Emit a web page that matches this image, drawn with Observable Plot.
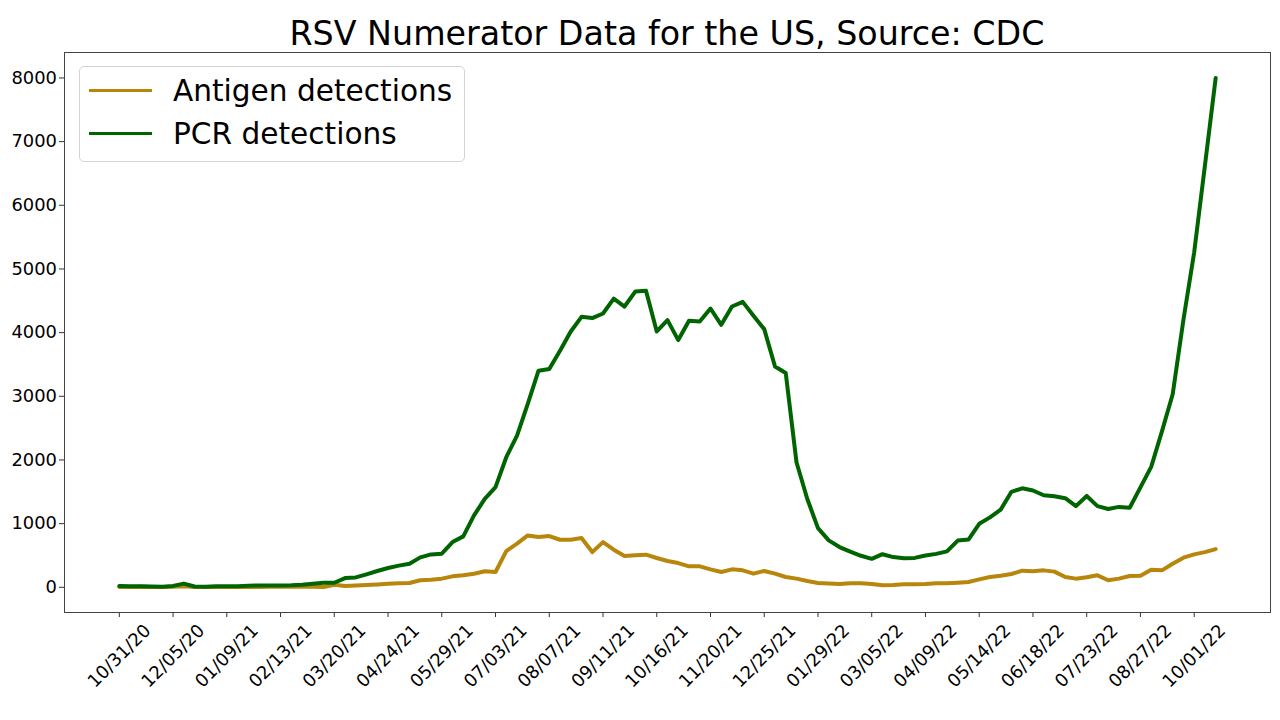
<!DOCTYPE html>
<html>
<head>
<meta charset="utf-8">
<script src="https://cdn.jsdelivr.net/npm/d3@7"></script>
<script src="https://cdn.jsdelivr.net/npm/@observablehq/plot@0.6"></script>
<style>
  body { margin: 0; background: #fff; font-family: "DejaVu Sans", sans-serif; }
  #fig { position: relative; width: 1280px; height: 720px; overflow: hidden; background: #fff; }
  #title { position: absolute; left: 64px; width: 1206px; top: 17px; text-align: center;
           font-size: 33.3px; line-height: 33.3px; color: #000; white-space: nowrap; }
  #chart { position: absolute; left: 0; top: 50px; }
  #legend { position: absolute; left: 79px; top: 66px; width: 386px; height: 96px;
            border: 1px solid #d4d4d4; border-radius: 5px; background: rgba(255,255,255,0.8);
            box-sizing: border-box; }
  .sw { position: absolute; left: 9px; width: 63px; height: 0; border-top: 3.8px solid; }
  .lt { position: absolute; left: 93px; font-size: 29.6px; line-height: 29.6px; color: #000; white-space: nowrap; }
</style>
</head>
<body>
<div id="fig">
  <div id="title">RSV Numerator Data for the US, Source: CDC</div>
  <div id="chart"></div>
  <div id="legend">
    <div class="sw" style="top:21.5px;border-color:#B8860B"></div>
    <div class="lt" style="top:9.5px">Antigen detections</div>
    <div class="sw" style="top:64.5px;border-color:#006400"></div>
    <div class="lt" style="top:52.5px">PCR detections</div>
  </div>
</div>
<script>
// Weekly series starting 10/31/20
const startDate = "10/31/20";
const antigen = [
  5, 5, 8, 6, 5, 8, 18, 5, 4, 5,
  6, 6, 5, 6, 8, 8, 10, 12, 10, 5,
  40, 20, 28, 35, 45, 55, 62, 68, 110, 120,
  136, 172, 188, 214, 251, 240, 569, 685, 815, 789,
  804, 747, 747, 773, 553, 710, 591, 491, 502, 512,
  460, 413, 381, 329, 329, 282, 240, 282, 266, 214,
  256, 214, 162, 136, 99, 68, 60, 52, 63, 63,
  52, 31, 37, 47, 47, 52, 63, 63, 73, 84,
  125, 162, 183, 209, 261, 251, 266, 246, 162, 136,
  157, 188, 110, 136, 177, 183, 277, 266, 371, 465,
  517, 553, 600
];
const pcr = [
  22, 15, 15, 12, 8, 22, 58, 12, 10, 15,
  18, 15, 25, 28, 28, 30, 32, 40, 55, 70,
  72, 145, 155, 204, 256, 303, 340, 371, 470, 517,
  528, 710, 800, 1129, 1390, 1573, 2043, 2383, 2880, 3402,
  3428, 3715, 4018, 4248, 4228, 4300, 4535, 4410, 4645, 4656,
  4018, 4196, 3883, 4186, 4175, 4379, 4123, 4410, 4483, 4264,
  4055, 3469, 3365, 1964, 1390, 930, 737, 632, 560, 495,
  447, 520, 475, 455, 462, 500, 525, 564, 734, 750,
  998, 1098, 1220, 1500, 1555, 1521, 1445, 1430, 1400, 1275,
  1435, 1275, 1230, 1263, 1250, 1569, 1892, 2450, 3033, 4203,
  5261, 6625, 8000
];
const xTickLabels = [
  "10/31/20", "12/05/20", "01/09/21", "02/13/21", "03/20/21", "04/24/21", "05/29/21",
  "07/03/21", "08/07/21", "09/11/21", "10/16/21", "11/20/21", "12/25/21", "01/29/22",
  "03/05/22", "04/09/22", "05/14/22", "06/18/22", "07/23/22", "08/27/22", "10/01/22"
];
const yTicks = [0, 1000, 2000, 3000, 4000, 5000, 6000, 7000, 8000];
const seriesNames = ["Antigen detections", "PCR detections"];
const seriesColors = ["#B8860B", "#006400"];

const parse = d3.utcParse("%m/%d/%y");
const t0 = parse(startDate);
const weekDate = i => d3.utcDay.offset(t0, 7 * i);
const antigenRows = antigen.map((v, i) => ({date: weekDate(i), value: v}));
const pcrRows = pcr.map((v, i) => ({date: weekDate(i), value: v}));
const tickDates = xTickLabels.map(parse);

// matplotlib-like 5% margins
const n = pcr.length - 1;
const weekMs = 7 * 864e5;
const xDomain = [new Date(t0.getTime() - 0.05 * n * weekMs), new Date(t0.getTime() + 1.05 * n * weekMs)];
const allVals = antigen.concat(pcr);
const ymin = d3.min(allVals), ymax = d3.max(allVals), yr = ymax - ymin;
const yDomain = [ymin - 0.05 * yr, ymax + 0.05 * yr];

const fs = 17.9;
const chart = Plot.plot({
  width: 1280,
  height: 670,
  marginLeft: 64,
  marginRight: 10,
  marginTop: 2,
  marginBottom: 108,
  style: {fontFamily: "DejaVu Sans", fontSize: fs + "px", background: "white", overflow: "visible", color: "#000"},
  x: {type: "utc", domain: xDomain, label: null},
  y: {domain: yDomain, label: null},
  marks: [
    Plot.axisY({ticks: yTicks, tickSize: 5, tickPadding: 2.5, fontSize: fs, tickFormat: d3.format("d"), label: null, stroke: "#333"}),
    Plot.axisX({ticks: tickDates, tickSize: 5, tickFormat: () => "", label: null, stroke: "#333"}),
    Plot.text(tickDates, {x: d => d, text: (d, i) => xTickLabels[i], frameAnchor: "bottom", dy: 43.5,
      rotate: -45, textAnchor: "middle", lineAnchor: "middle", fontSize: fs, fill: "#000"}),
    Plot.lineY(antigenRows, {x: "date", y: "value", stroke: seriesColors[0], strokeWidth: 4, strokeLinejoin: "round", title: () => seriesNames[0]}),
    Plot.lineY(pcrRows, {x: "date", y: "value", stroke: seriesColors[1], strokeWidth: 4, strokeLinejoin: "round", title: () => seriesNames[1]}),
    Plot.frame({stroke: "#444", strokeWidth: 1})
  ]
});
document.getElementById("chart").appendChild(chart);
</script>
</body>
</html>
